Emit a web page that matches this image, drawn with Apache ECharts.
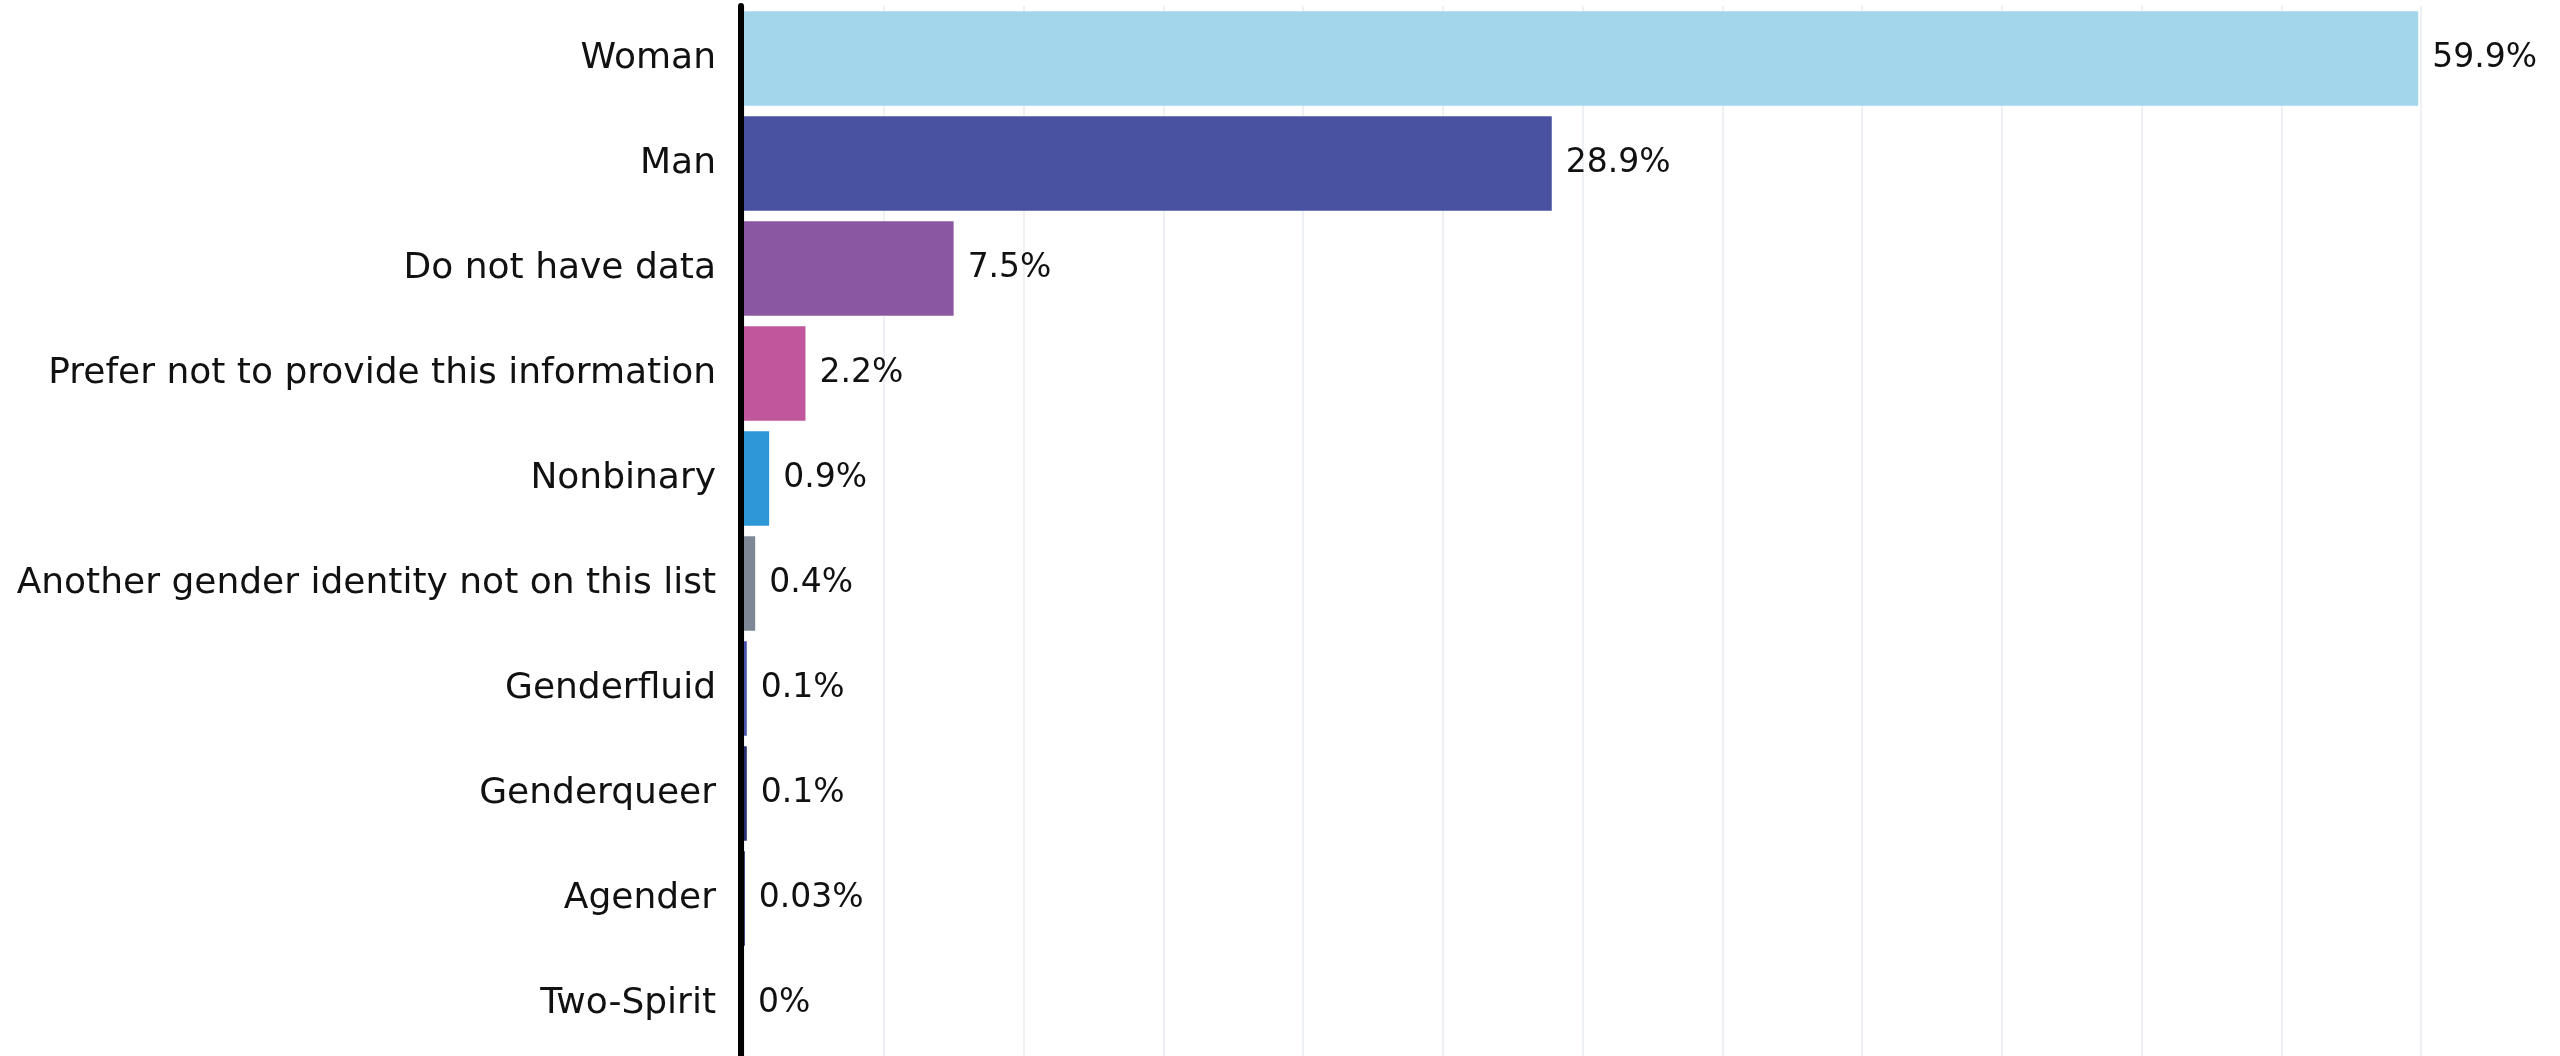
<!DOCTYPE html>
<html>
<head>
<meta charset="utf-8">
<style>
  html, body { margin: 0; padding: 0; background: #ffffff; }
  #chart { width: 2560px; height: 1056px; }
</style>
<script src="https://cdn.jsdelivr.net/npm/echarts@6/dist/echarts.min.js"></script>
</head>
<body>
<div id="chart"></div>
<script>
const categories = [
  "Woman",
  "Man",
  "Do not have data",
  "Prefer not to provide this information",
  "Nonbinary",
  "Another gender identity not on this list",
  "Genderfluid",
  "Genderqueer",
  "Agender",
  "Two-Spirit"
];
const values = [59.9, 28.9, 7.5, 2.2, 0.9, 0.4, 0.1, 0.1, 0.03, 0];
const valueLabels = ["59.9%", "28.9%", "7.5%", "2.2%", "0.9%", "0.4%", "0.1%", "0.1%", "0.03%", "0%"];
const barColors = [
  "#a3d5eb", "#4852a0", "#8a58a2", "#c1569d", "#2e98d6",
  "#7d8795", "#4c55ad", "#28306f", "#1f2766", "#1f2766"
];
const axisMin = 0;
const axisMax = 60;
const axisInterval = 5;

const FONT = "DejaVu Sans";

const chart = echarts.init(document.getElementById('chart'), null, { renderer: 'canvas' });
chart.setOption({
  animation: false,
  backgroundColor: '#ffffff',
  grid: { left: 744, right: 139, top: 6, height: 1054, containLabel: false },
  xAxis: {
    type: 'value',
    min: axisMin,
    max: axisMax,
    interval: axisInterval,
    axisLine: { show: false },
    axisTick: { show: false },
    axisLabel: { show: false },
    splitLine: { show: true, lineStyle: { color: '#edf1f5', width: 2 } }
  },
  yAxis: {
    type: 'category',
    data: categories,
    inverse: true,
    offset: 3,
    axisLine: { show: true, onZero: false, lineStyle: { color: '#000000', width: 6 } },
    axisTick: { show: false },
    axisLabel: {
      margin: 25,
      color: '#111111',
      fontFamily: FONT,
      fontSize: 36
    }
  },
  series: [{
    type: 'bar',
    data: values.map((v, i) => ({ value: v, itemStyle: { color: barColors[i] } })),
    barCategoryGap: '10%',
    label: {
      show: true,
      position: 'right',
      distance: 14,
      color: '#111111',
      fontFamily: FONT,
      fontSize: 33,
      formatter: (p) => valueLabels[p.dataIndex]
    }
  }]
});
</script>
</body>
</html>
